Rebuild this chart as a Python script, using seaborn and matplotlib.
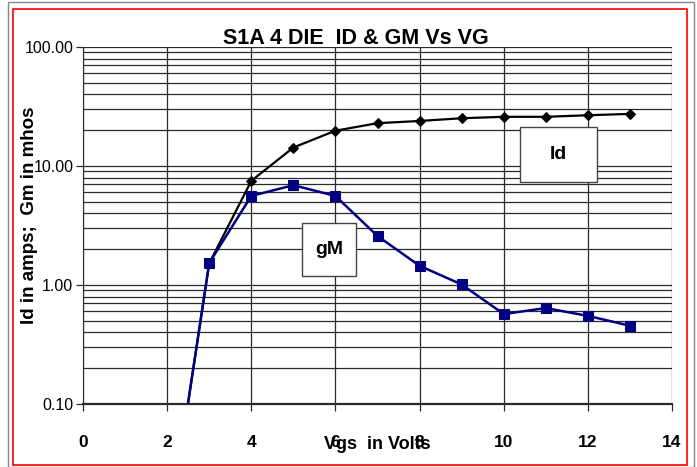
"""Curvas Id y gM vs Vgs, eje Y logarítmico."""

import matplotlib
matplotlib.use("Agg")
import matplotlib.pyplot as plt
import matplotlib.ticker as mticker
import numpy as np
import pandas as pd
import seaborn as sns
from matplotlib.patches import Rectangle

vgs = [2, 3, 4, 5, 6, 7, 8, 9, 10, 11, 12, 13]
id_amps = [0.007, 1.52, 7.5, 14.3, 19.8, 22.9, 23.9, 25.2, 25.9, 25.9, 26.7, 27.4]
gm_mhos = [0.007, 1.53, 5.6, 6.9, 5.6, 2.58, 1.45, 1.01, 0.57, 0.64, 0.55, 0.455]
x_ticks = [0, 2, 4, 6, 8, 10, 12, 14]
y_ticks = [0.1, 1, 10, 100]

df = pd.DataFrame({"vgs": vgs, "Id": id_amps, "gM": gm_mhos})

sns.set_style("white")
plt.rcParams["font.family"] = ["Liberation Sans", "DejaVu Sans"]
plt.rcParams["text.color"] = "black"
plt.rcParams["axes.labelcolor"] = "black"

fig = plt.figure(figsize=(6.97, 4.67), dpi=100)
ax = fig.add_axes([83 / 697, 1 - 404 / 467, 589 / 697, 357 / 467])

grid_col = "#2a2a2a"
ax.set_yscale("log")
ax.set_xlim(0, 14)
ax.set_ylim(0.1, 100)

# rejilla: mayores y menores en Y, cada 2 V en X
for dec in [0.1, 1, 10]:
    for k in range(1, 10):
        ax.axhline(dec * k, color=grid_col, lw=0.9, zorder=0)
ax.axhline(100, color=grid_col, lw=0.9, zorder=0)
for xv in x_ticks:
    ax.axvline(xv, color=grid_col, lw=0.9, zorder=0)

sns.lineplot(data=df, x="vgs", y="Id", color="black", marker="D", markersize=5,
             markeredgecolor="black", lw=1.6, ax=ax, zorder=3)
sns.lineplot(data=df, x="vgs", y="gM", color="#000080", marker="s", markersize=6.5,
             markeredgecolor="#000080", lw=1.8, ax=ax, zorder=4)

ax.set_xticks(x_ticks)
ax.set_xticklabels([str(v) for v in x_ticks], fontsize=12.5, fontweight="bold")
ax.yaxis.set_major_locator(mticker.FixedLocator(y_ticks))
ax.yaxis.set_minor_locator(mticker.NullLocator())
ax.yaxis.set_major_formatter(mticker.FuncFormatter(lambda v, p: f"{v:.2f}"))
ax.tick_params(axis="y", labelsize=11.5, length=5, width=0.9, color=grid_col, labelcolor="black",
               direction="out", left=True, pad=2)
ax.tick_params(axis="x", length=5, width=0.9, color=grid_col, labelcolor="black",
               direction="out", bottom=True, pad=17)

for s in ["top", "right"]:
    ax.spines[s].set_visible(False)
ax.spines["left"].set_color(grid_col)
ax.spines["bottom"].set_color(grid_col)
ax.spines["bottom"].set_linewidth(1.6)

ax.set_xlabel("Vgs  in Volts", fontsize=13, fontweight="bold")
ax.xaxis.set_label_coords(0.5, -0.09)
ax.set_ylabel("Id in amps;  Gm in mhos", fontsize=13.5, fontweight="bold")
ax.yaxis.set_label_coords(-0.076, 0.53)

fig.text(356 / 697, 1 - 38 / 467, "S1A 4 DIE  ID & GM Vs VG", ha="center", va="center",
         fontsize=15.5, fontweight="bold")

# cuadros de texto de las series
for (x0, y0, x1, y1, txt) in [(520, 127, 597, 182, "Id"), (302, 223, 356, 276, "gM")]:
    fig.patches.append(Rectangle((x0 / 697, 1 - y1 / 467), (x1 - x0) / 697, (y1 - y0) / 467,
                                 transform=fig.transFigure, fill=True, facecolor="white",
                                 edgecolor="#444444", lw=1, zorder=5))
    fig.text((x0 + x1) / 2 / 697, 1 - (y0 + y1) / 2 / 467, txt, ha="center", va="center",
             fontsize=14, fontweight="bold", zorder=6)

# marcos exteriores
fig.patches.append(Rectangle((8 / 697, 0.5 / 467), 686 / 697, 465 / 467, transform=fig.transFigure,
                             fill=False, edgecolor="#888888", lw=1))
fig.patches.append(Rectangle((13 / 697, 2 / 467), 674 / 697, 456 / 467, transform=fig.transFigure,
                             fill=False, edgecolor="red", lw=1.2))

fig.savefig("out.png", dpi=100)
plt.close(fig)
